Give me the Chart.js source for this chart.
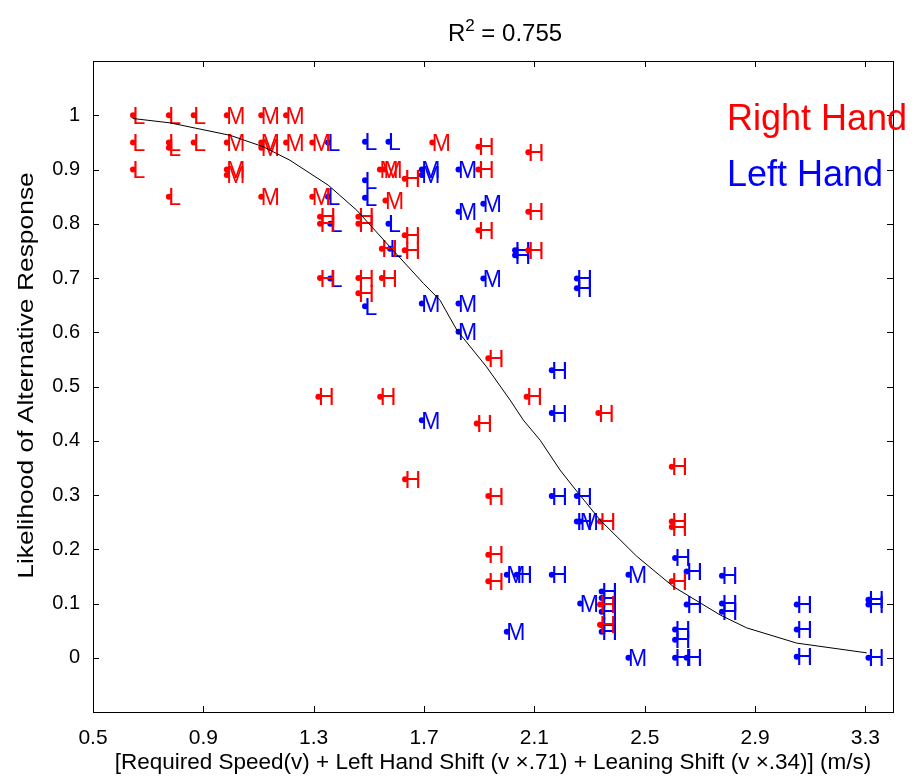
<!DOCTYPE html>
<html>
<head>
<meta charset="utf-8">
<script src="https://cdn.jsdelivr.net/npm/chart.js@4"></script>
<style>
  html, body { margin: 0; padding: 0; background: #fff; }
  #wrap { width: 915px; height: 778px; }
</style>
</head>
<body>
<div id="wrap"><canvas id="chart" width="915" height="778"></canvas></div>
<script>
/* Likelihood of alternative response vs combined speed shift
   L / M / H text markers, red = right hand, blue = left hand */

// ── Right hand (red) points, [x, y] ──
const rightL = [
  [0.645, 1.0], [0.775, 1.0], [0.865, 1.0],
  [0.645, 0.95], [0.775, 0.95], [0.775, 0.94], [0.865, 0.95],
  [0.645, 0.9], [0.775, 0.85]
];
const rightM = [
  [0.985, 1.0], [1.11, 1.0], [1.2, 1.0],
  [0.985, 0.95], [1.11, 0.95], [1.11, 0.94], [1.2, 0.95], [1.295, 0.95],
  [0.985, 0.9], [0.985, 0.89], [1.11, 0.85], [1.295, 0.85],
  [1.54, 0.9], [1.555, 0.9], [1.73, 0.95], [1.56, 0.843]
];
const rightH = [
  [1.323, 0.813], [1.323, 0.80], [1.462, 0.813], [1.462, 0.80],
  [1.323, 0.70], [1.462, 0.70], [1.462, 0.672], [1.547, 0.70],
  [1.547, 0.754], [1.63, 0.751], [1.63, 0.779], [1.63, 0.883],
  [1.897, 0.942], [1.897, 0.90], [1.897, 0.788],
  [2.078, 0.932], [2.078, 0.822], [2.078, 0.751],
  [1.933, 0.552], [1.317, 0.481], [1.541, 0.481], [2.072, 0.481],
  [1.891, 0.432], [2.332, 0.451], [1.631, 0.329], [2.598, 0.352],
  [1.933, 0.298], [2.338, 0.251], [2.598, 0.251], [2.598, 0.241],
  [1.933, 0.19], [1.933, 0.141], [2.598, 0.141],
  [2.338, 0.098], [2.338, 0.061]
];

// ── Left hand (blue) points, [x, y] ──
const leftL = [
  [1.352, 0.95], [1.486, 0.951], [1.571, 0.951],
  [1.486, 0.88], [1.486, 0.848], [1.352, 0.85],
  [1.36, 0.80], [1.571, 0.80], [1.577, 0.754],
  [1.36, 0.699], [1.486, 0.648]
];
const leftM = [
  [1.692, 0.9], [1.692, 0.89], [1.825, 0.9], [1.825, 0.822], [1.915, 0.837],
  [1.915, 0.699], [1.692, 0.653], [1.825, 0.653], [1.825, 0.601],
  [1.692, 0.438], [2.266, 0.251], [2.0, 0.153], [2.441, 0.153],
  [2.266, 0.1], [2.0, 0.048], [2.441, 0.0]
];
const leftH = [
  [2.03, 0.751], [2.03, 0.742], [2.254, 0.699], [2.254, 0.681],
  [2.163, 0.53], [2.163, 0.451], [2.163, 0.298], [2.254, 0.298],
  [2.254, 0.251], [2.036, 0.153], [2.163, 0.153],
  [2.61, 0.184], [2.652, 0.159], [2.78, 0.151],
  [2.344, 0.122], [2.344, 0.11], [2.344, 0.085], [2.344, 0.06], [2.344, 0.048],
  [2.652, 0.098], [2.78, 0.1], [2.78, 0.085],
  [3.051, 0.098], [3.051, 0.052], [3.051, 0.002],
  [3.311, 0.107], [3.311, 0.098], [3.311, 0.0],
  [2.61, 0.052], [2.61, 0.033], [2.61, 0.0], [2.652, 0.0]
];

// ── Fitted curve ──
const curveX = [0.644, 0.779, 0.997, 1.117, 1.214, 1.353, 1.456, 1.577, 1.698, 1.758,
                1.819, 1.927, 2.012, 2.06, 2.121, 2.193, 2.241, 2.338, 2.471, 2.604,
                2.773, 2.87, 3.051, 3.305];
const curveY = [0.994, 0.986, 0.963, 0.942, 0.917, 0.871, 0.825, 0.757, 0.69, 0.659,
                0.604, 0.536, 0.475, 0.438, 0.401, 0.346, 0.315, 0.254, 0.187, 0.131,
                0.079, 0.055, 0.027, 0.009];

const xTicks = [0.5, 0.9, 1.3, 1.7, 2.1, 2.5, 2.9, 3.3];
const yTicks = [0, 0.1, 0.2, 0.3, 0.4, 0.5, 0.6, 0.7, 0.8, 0.9, 1];

const FONT = '"Liberation Sans", Arial, Helvetica, sans-serif';
const RED = '#ff0000';
const BLUE = '#0000ff';

const toPts = arr => arr.map(p => ({ x: p[0], y: p[1] }));

function markerSet(pts, letter, color) {
  return {
    label: letter,
    letter: letter,
    data: toPts(pts),
    pointRadius: 3,
    pointBorderWidth: 0,
    pointBackgroundColor: color,
    pointBorderColor: color,
    showLine: false,
    order: 1
  };
}

// text markers: letter drawn right against each dot
const letterMarkers = {
  id: 'letterMarkers',
  afterDatasetDraw(chart, args) {
    const ds = chart.data.datasets[args.index];
    if (!ds.letter) return;
    const ctx = chart.ctx;
    ctx.save();
    ctx.font = '23px ' + FONT;
    ctx.fillStyle = ds.pointBackgroundColor;
    ctx.textAlign = 'left';
    ctx.textBaseline = 'alphabetic';
    args.meta.data.forEach(el => {
      ctx.fillText(ds.letter, el.x - 0.5, el.y + 8.5);
    });
    ctx.restore();
  }
};

// box, inward ticks on all four sides, titles and hand labels
const frame = {
  id: 'frame',
  afterDraw(chart) {
    const { ctx, chartArea: a, scales } = chart;
    ctx.save();
    ctx.strokeStyle = '#000';
    ctx.lineWidth = 1;
    ctx.strokeRect(a.left + 0.5, a.top + 0.5, a.right - a.left, a.bottom - a.top);
    ctx.beginPath();
    xTicks.forEach(v => {
      const px = Math.round(scales.x.getPixelForValue(v)) + 0.5;
      ctx.moveTo(px, a.bottom); ctx.lineTo(px, a.bottom - 6);
      ctx.moveTo(px, a.top); ctx.lineTo(px, a.top + 6);
    });
    yTicks.forEach(v => {
      const py = Math.round(scales.y.getPixelForValue(v)) + 0.5;
      ctx.moveTo(a.left, py); ctx.lineTo(a.left + 6, py);
      ctx.moveTo(a.right, py); ctx.lineTo(a.right - 6, py);
    });
    ctx.stroke();

    // title with superscript
    ctx.fillStyle = '#000';
    ctx.textBaseline = 'alphabetic';
    ctx.textAlign = 'left';
    const big = '24px ' + FONT, small = '17px ' + FONT;
    ctx.font = big;
    const wR = ctx.measureText('R').width;
    const rest = ' = 0.755';
    const wRest = ctx.measureText(rest).width;
    ctx.font = small;
    const w2 = ctx.measureText('2').width;
    const total = wR + w2 + wRest;
    let tx = (a.left + a.right) / 2 - total / 2 + 12;
    const ty = 41;
    ctx.font = big; ctx.fillText('R', tx, ty); tx += wR;
    ctx.font = small; ctx.fillText('2', tx, ty - 10); tx += w2;
    ctx.font = big; ctx.fillText(rest, tx, ty);

    // y axis title, slightly stretched along its length like the source
    ctx.save();
    ctx.translate(27, (a.top + a.bottom) / 2 - 11);
    ctx.rotate(-Math.PI / 2);
    ctx.scale(1.2, 1);
    ctx.font = '22px ' + FONT;
    ctx.textAlign = 'center';
    ctx.textBaseline = 'middle';
    ctx.fillText('Likelihood of Alternative Response', 0, 0);
    ctx.restore();

    // hand labels
    ctx.font = '36px ' + FONT;
    ctx.fillStyle = RED;
    ctx.fillText('Right Hand', a.left + 634, a.top + 69);
    ctx.fillStyle = BLUE;
    ctx.fillText('Left Hand', a.left + 634, a.top + 125);
    ctx.restore();
  }
};

new Chart(document.getElementById('chart'), {
  type: 'scatter',
  data: {
    datasets: [
      markerSet(rightL, 'L', RED),
      markerSet(rightM, 'M', RED),
      markerSet(rightH, 'H', RED),
      markerSet(leftL, 'L', BLUE),
      markerSet(leftM, 'M', BLUE),
      markerSet(leftH, 'H', BLUE),
      {
        label: 'fit',
        data: curveX.map((x, i) => ({ x: x, y: curveY[i] })),
        showLine: true,
        pointRadius: 0,
        borderColor: '#000',
        borderWidth: 1,
        tension: 0,
        order: 0
      }
    ]
  },
  options: {
    responsive: false,
    animation: false,
    events: [],
    layout: { padding: { top: 61, right: 22, left: 0, bottom: 0 } },
    plugins: {
      legend: { display: false },
      tooltip: { enabled: false },
      title: { display: false }
    },
    scales: {
      x: {
        type: 'linear',
        min: 0.5, max: 3.4,
        afterBuildTicks: s => { s.ticks = xTicks.map(v => ({ value: v })); },
        afterFit: s => { s.height = 66; },
        grid: { display: false, drawTicks: false },
        border: { display: false },
        ticks: {
          autoSkip: false, maxRotation: 0, padding: 14,
          color: '#000', font: { family: FONT, size: 21 },
          callback: v => String(+v.toFixed(1))
        },
        title: {
          display: true,
          text: '[Required Speed(v) + Left Hand Shift (v ×.71) + Leaning Shift (v ×.34)] (m/s)',
          color: '#000', font: { family: FONT, size: 22.5 },
          padding: { top: 0, bottom: 2 }
        }
      },
      y: {
        type: 'linear',
        min: -0.1, max: 1.1,
        afterBuildTicks: s => { s.ticks = yTicks.map(v => ({ value: v })); },
        afterFit: s => { s.width = 93; },
        grid: { display: false, drawTicks: false },
        border: { display: false },
        ticks: {
          autoSkip: false, padding: 13,
          color: '#000', font: { family: FONT, size: 20 },
          callback: v => String(+v.toFixed(1))
        },
        title: { display: false }
      }
    }
  },
  plugins: [letterMarkers, frame]
});
</script>
</body>
</html>
